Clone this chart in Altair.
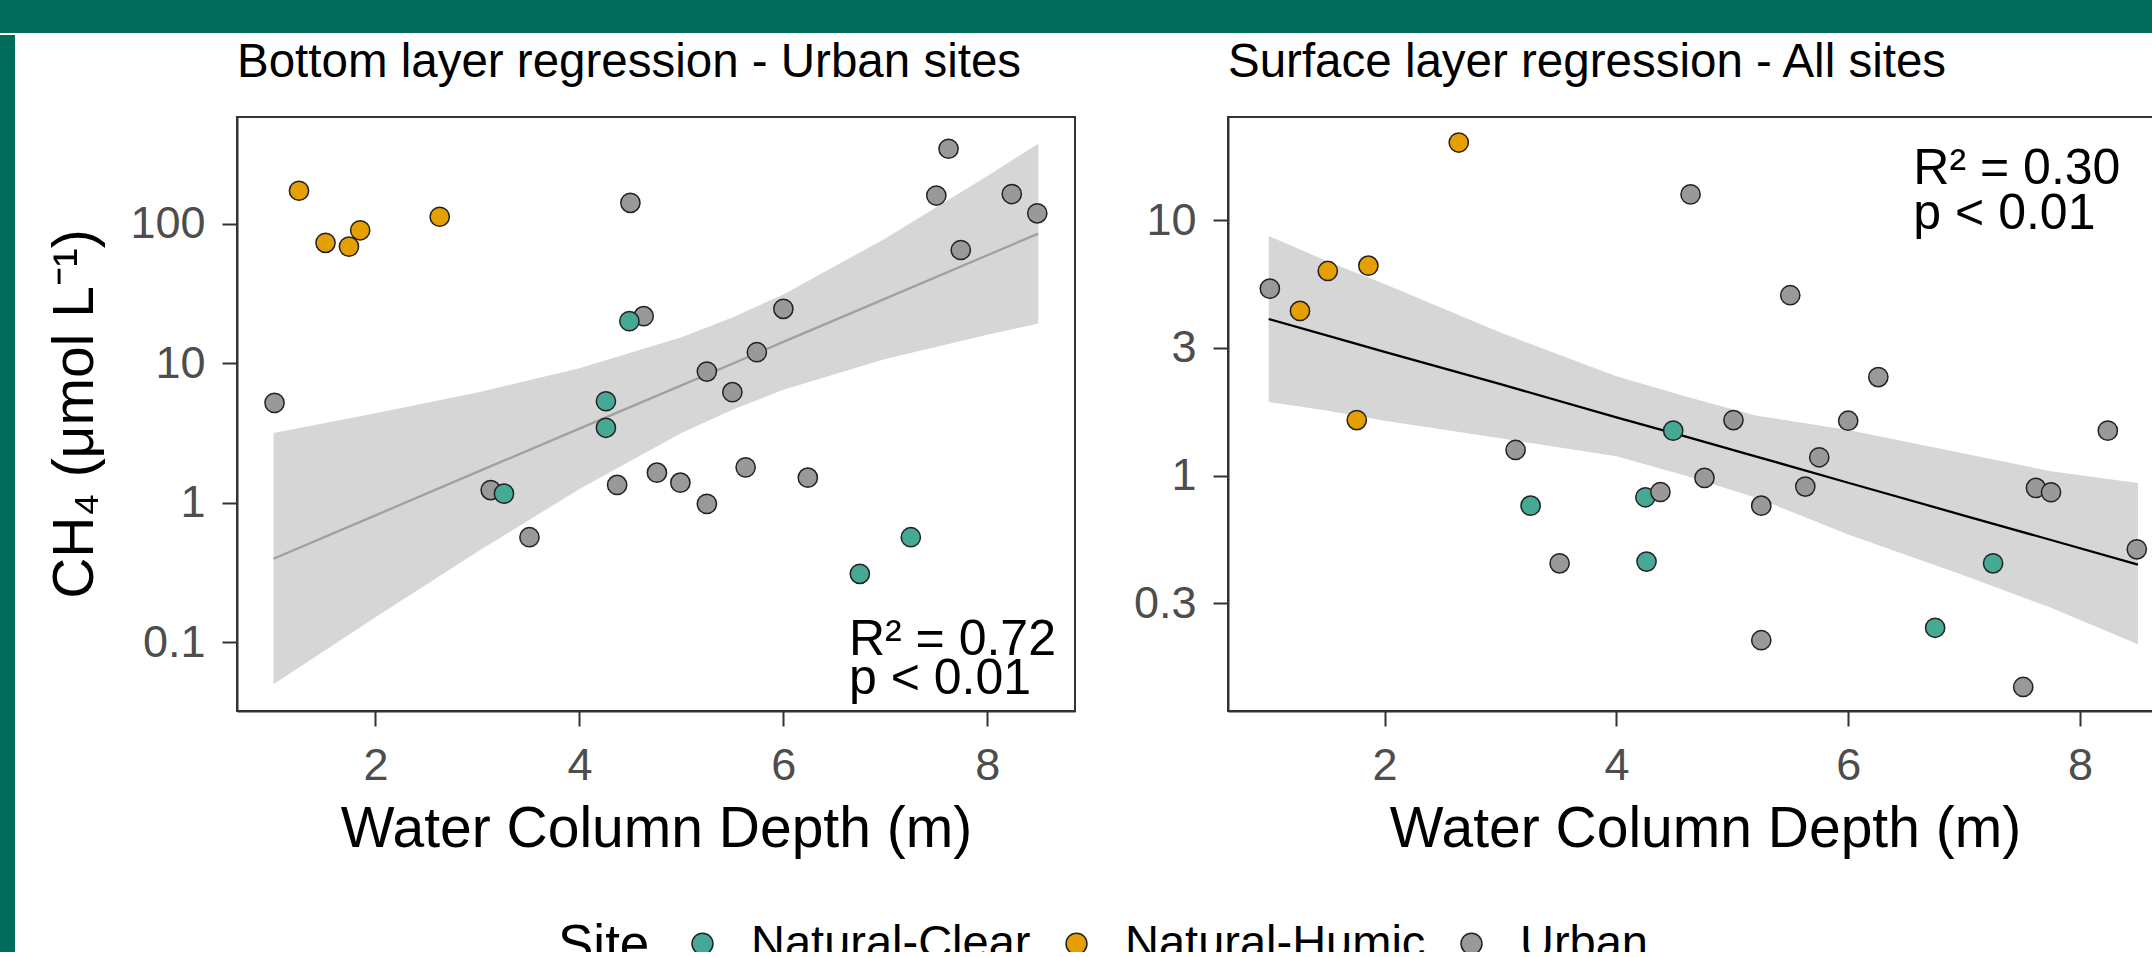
import altair as alt
import pandas as pd

FONT = "Liberation Sans"
GREEN = "#006b5b"
INK = "#333333"

# ---------------- data ----------------
site_names = ["Natural-Clear", "Natural-Humic", "Urban"]
site_colors = ["#45a996", "#e69f00", "#999999"]

# Bottom layer (left panel) - drawn in this order
bottom_depth = [1.25, 1.51, 1.74, 1.85, 2.63,
                4.50, 4.63, 1.01, 7.62, 7.50, 8.24, 8.49, 7.74, 6.00, 5.74, 5.25, 5.50,
                3.13, 3.51, 4.37, 4.76, 4.99, 5.25, 5.63, 6.24,
                4.49, 4.26, 4.26, 3.26, 7.25, 6.75]
bottom_ch4 = [172, 72.8, 68.4, 89.6, 112,
              141, 21.7, 5.19, 344, 159, 163, 118.5, 64.7, 24.5, 11.97, 8.7, 6.19,
              1.23, 0.565, 1.34, 1.64, 1.39, 0.98, 1.79, 1.51,
              20.0, 5.33, 3.44, 1.16, 0.565, 0.309]
bottom_site = ["Natural-Humic", "Natural-Humic", "Natural-Humic", "Natural-Humic", "Natural-Humic",
               "Urban", "Urban", "Urban", "Urban", "Urban", "Urban", "Urban", "Urban", "Urban",
               "Urban", "Urban", "Urban", "Urban", "Urban", "Urban", "Urban", "Urban", "Urban",
               "Urban", "Urban",
               "Natural-Clear", "Natural-Clear", "Natural-Clear", "Natural-Clear",
               "Natural-Clear", "Natural-Clear"]

bottom_fit_depth = [1.0, 2.0, 3.0, 4.0, 5.0, 5.5, 6.0, 7.0, 8.0, 8.5]
bottom_fit_mid = [0.396, 0.811, 1.66, 3.39, 6.93, 9.9, 14.2, 29.0, 59.3, 84.7]
bottom_fit_low = [0.0499, 0.151, 0.445, 1.25, 3.15, 4.63, 6.44, 10.7, 16.0, 19.2]
bottom_fit_high = [3.15, 4.37, 6.17, 9.2, 15.3, 21.2, 31.1, 78.2, 219, 374]

# Surface layer (right panel) - drawn in this order
surface_depth = [2.64, 1.51, 1.86, 1.27, 1.76,
                 4.49, 3.26, 4.25, 4.26, 7.25, 6.75,
                 4.64, 1.01, 5.50, 6.26, 5.01, 6.00, 8.24, 3.13, 4.38, 3.51,
                 4.76, 5.75, 5.63, 5.25, 7.62, 7.75, 8.49, 5.25, 7.51]
surface_ch4 = [20.1, 6.32, 6.63, 4.41, 1.65,
               1.50, 0.763, 0.823, 0.461, 0.454, 0.254,
               12.6, 5.39, 5.08, 2.43, 1.65, 1.64, 1.50, 1.26, 0.863, 0.454,
               0.98, 1.18, 0.906, 0.763, 0.895, 0.861, 0.515, 0.227, 0.149]
surface_site = ["Natural-Humic", "Natural-Humic", "Natural-Humic", "Natural-Humic", "Natural-Humic",
                "Natural-Clear", "Natural-Clear", "Natural-Clear", "Natural-Clear",
                "Natural-Clear", "Natural-Clear",
                "Urban", "Urban", "Urban", "Urban", "Urban", "Urban", "Urban", "Urban", "Urban",
                "Urban", "Urban", "Urban", "Urban", "Urban", "Urban", "Urban", "Urban", "Urban",
                "Urban"]

surface_fit_depth = [1.0, 1.5, 2.0, 3.0, 4.0, 4.6, 5.2, 6.0, 7.0, 7.75, 8.5]
surface_fit_mid = [4.10, 3.54, 3.05, 2.28, 1.69, 1.42, 1.19, 0.938, 0.698, 0.56, 0.449]
surface_fit_low = [1.94, 1.80, 1.64, 1.40, 1.19, 1.00, 0.822, 0.589, 0.407, 0.304, 0.219]
surface_fit_high = [8.66, 6.92, 5.62, 3.63, 2.45, 2.04, 1.72, 1.51, 1.22, 1.04, 0.936]

bottom_stats = ["R² = 0.72", "p < 0.01"]
surface_stats = ["R² = 0.30", "p < 0.01"]
bottom_title = "Bottom layer regression - Urban sites"
surface_title = "Surface layer regression - All sites"
x_title = "Water Column Depth (m)"
y_title = "CH₄ (μmol L⁻¹)"

# ---------------- frames ----------------
bottom_df = pd.DataFrame({"depth": bottom_depth, "ch4": bottom_ch4, "site": bottom_site})
bottom_fit = pd.DataFrame({"depth": bottom_fit_depth, "mid": bottom_fit_mid,
                           "low": bottom_fit_low, "high": bottom_fit_high})
surface_df = pd.DataFrame({"depth": surface_depth, "ch4": surface_ch4, "site": surface_site})
surface_fit = pd.DataFrame({"depth": surface_fit_depth, "mid": surface_fit_mid,
                            "low": surface_fit_low, "high": surface_fit_high})
bottom_ann = pd.DataFrame({"depth": [6.643], "ch4": [0.0807]})
surface_ann = pd.DataFrame({"depth": [6.562], "ch4": [13.8]})
one = pd.DataFrame({"v": [0]})

color_enc = alt.Color(
    "site:N",
    scale=alt.Scale(domain=site_names, range=site_colors),
    legend=alt.Legend(title="Site", orient="none", legendX=558, legendY=920,
                      direction="horizontal", titleOrient="left"),
)

point_style = dict(filled=True, shape="circle", size=370, opacity=1,
                   stroke="#222222", strokeWidth=1.5)


def panel(pts, fit, ann, stats, lh, xdom, ydom, yvals, yfmt, width, height,
          line_color, title, ytitle=None):
    xs = alt.Scale(domain=xdom, nice=False, zero=False)
    ys = alt.Scale(type="log", domain=ydom, nice=False)
    xax = alt.Axis(values=[2, 4, 6, 8], format="d", title=x_title)
    yax = alt.Axis(values=yvals, format=yfmt, title=None)
    X = lambda f: alt.X(f + ":Q", scale=xs, axis=xax)
    Y = lambda f: alt.Y(f + ":Q", scale=ys, axis=yax)

    rib = alt.Chart(fit).mark_area(color="#d6d6d6", opacity=1).encode(
        x=X("depth"), y=Y("low"), y2="high:Q")
    line = alt.Chart(fit).mark_line(color=line_color, strokeWidth=2.3).encode(
        x=X("depth"), y=Y("mid"))
    dots = alt.Chart(pts).mark_point(**point_style).encode(
        x=X("depth"), y=Y("ch4"), color=color_enc)
    txt = alt.Chart(ann).mark_text(
        align="left", baseline="alphabetic", fontSize=50, lineHeight=lh,
        color="black", font=FONT, text=stats).encode(x=X("depth"), y=Y("ch4"))
    ttl = alt.Chart(one).mark_text(
        align="left", baseline="alphabetic", fontSize=47.5, color="black", font=FONT,
        text=title).encode(x=alt.value(0), y=alt.value(-40))
    layers = [rib, line, dots, txt, ttl]
    if ytitle:
        yt = alt.Chart(one).mark_text(
            align="center", baseline="alphabetic", fontSize=57, angle=270,
            color="black", font=FONT, text=ytitle,
        ).encode(x=alt.value(-144), y=alt.value(height / 2))
        layers.append(yt)
    return alt.layer(*layers).properties(
        width=width, height=height,
        view=alt.ViewBackground(stroke=INK, strokeWidth=2),
    )


left = panel(bottom_df, bottom_fit, bottom_ann, bottom_stats, 38.6,
             [0.642, 8.86], [0.0321, 581], [0.1, 1, 10, 100], "~g", 838, 594,
             "#a0a0a0", bottom_title, ytitle=y_title)
right = panel(surface_df, surface_fit, surface_ann, surface_stats, 44.3,
              [0.649, 8.88], [0.12, 25.3], [0.31623, 1, 3.1623, 10], ".1r", 954, 594,
              "black", surface_title)

panels = alt.hconcat(left, right, spacing=56)


# ---------------- frame (green border) ----------------
def block(w, h, fill, op=1):
    return alt.Chart(one).mark_rect(color=fill, opacity=op).encode(
        x=alt.value(0), x2=alt.value(w), y=alt.value(0), y2=alt.value(h)
    ).properties(width=w, height=h)


content = alt.vconcat(block(1, 2, "white", 0), panels, spacing=0)
row = alt.hconcat(block(15, 924, GREEN), content, spacing=30)
chart = alt.vconcat(block(2152, 33, GREEN), row, spacing=0).properties(
    autosize=alt.AutoSizeParams(type="none"),
    padding={"left": 0, "top": 0, "right": 2152, "bottom": 952},
    background="white",
)

chart = chart.configure(font=FONT).configure_view(stroke="transparent").configure_axis(
    domainColor=INK, domainWidth=2, tickColor=INK, tickWidth=2, tickSize=15,
    labelColor="#4d4d4d", labelFontSize=45, labelFont=FONT, labelPadding=17,
    titleFont=FONT, titleFontSize=57, titleFontWeight="normal", titleColor="black",
    titlePadding=13, grid=False,
).configure_legend(
    labelFont=FONT, labelFontSize=47, labelColor="black", labelLimit=1000,
    titleFont=FONT, titleFontSize=53, titleFontWeight="normal", titleColor="black",
    symbolSize=440, symbolStrokeColor="#222222", symbolStrokeWidth=1.5,
    labelOffset=25, columnPadding=22, titlePadding=29, padding=0,
    titleBaseline="top", titleAnchor="start",
)

chart.save("out.html", embed_options={"renderer": "svg", "actions": False})
